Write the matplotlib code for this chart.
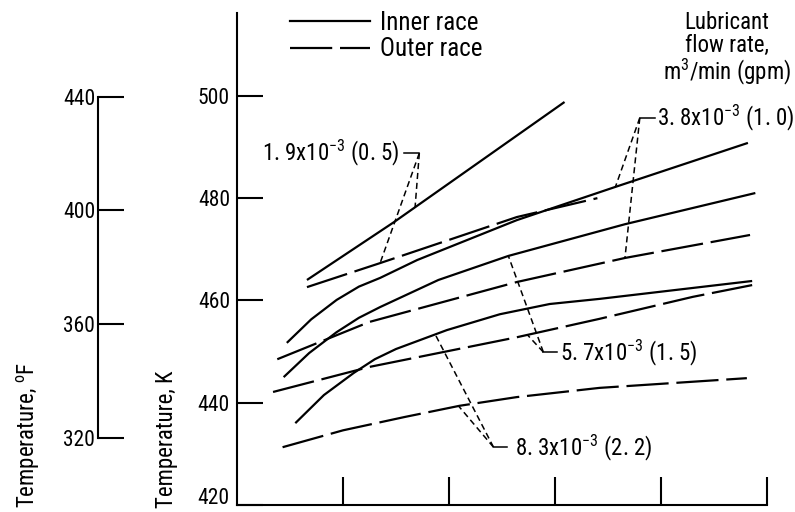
import numpy as np
import matplotlib.pyplot as plt
from matplotlib import font_manager as fm

# pick a narrow sans face if one is installed (the original lettering is condensed)
def pick_font():
    order = ['Liberation Sans Narrow', 'Roboto Condensed', 'Noto Sans Condensed',
             'Open Sans Condensed', 'DejaVu Sans Condensed']
    found = {}
    for f in fm.fontManager.ttflist:
        if f.style != 'normal' or f.weight not in (400, 'normal', 'regular'):
            continue
        nm = f.name
        if f.stretch == 'condensed' and 'Condensed' not in nm and 'Narrow' not in nm:
            nm = nm + ' Condensed'
        found.setdefault(nm, f.fname)
    for nm in order:
        if nm in found:
            return fm.FontProperties(fname=found[nm])
    return fm.FontProperties(family='Liberation Sans')

base_font = pick_font()

def fp(size):
    p = base_font.copy()
    p.set_size(size)
    return p

# race temperatures (K), x in tick units (unlabelled axis)
x_in_05 = [0.66, 1.48, 3.09]
T_in_05 = [464.0, 475.3, 498.8]
x_out_05 = [0.66, 1.35, 2.64, 3.40]
T_out_05 = [462.6, 467.3, 476.3, 480.0]

x_in_10 = [0.47, 0.70, 0.94, 1.15, 1.35, 1.70, 2.64, 3.57, 4.82]
T_in_10 = [451.7, 456.3, 460.1, 462.7, 464.4, 467.9, 475.7, 482.2, 490.8]
x_out_10 = [0.38, 1.25, 2.64, 3.66, 4.84]
T_out_10 = [448.5, 455.8, 463.6, 468.3, 472.8]

x_in_15 = [0.44, 0.68, 0.94, 1.15, 1.35, 1.90, 2.56, 3.66, 4.89]
T_in_15 = [445.0, 449.7, 453.8, 456.6, 458.7, 464.0, 468.7, 474.9, 481.0]
x_out_15 = [0.34, 1.25, 2.64, 3.42, 4.30, 4.86]
T_out_15 = [442.1, 447.0, 452.8, 456.4, 460.7, 463.0]

x_in_22 = [0.55, 0.82, 1.10, 1.30, 1.50, 1.98, 2.48, 2.95, 3.42, 4.86]
T_in_22 = [436.0, 441.5, 445.8, 448.5, 450.5, 454.2, 457.3, 459.3, 460.3, 463.8]
x_out_22 = [0.43, 1.00, 1.58, 2.10, 2.64, 3.42, 4.81]
T_out_22 = [431.3, 434.6, 437.2, 439.4, 441.1, 442.9, 444.8]

inner = [(x_in_05, T_in_05), (x_in_10, T_in_10), (x_in_15, T_in_15), (x_in_22, T_in_22)]
outer = [(x_out_05, T_out_05), (x_out_10, T_out_10), (x_out_15, T_out_15), (x_out_22, T_out_22)]

flow_labels = ["1. 9x10$^{\\mathregular{-3}}$ (0. 5)",
               "3. 8x10$^{\\mathregular{-3}}$ (1. 0)",
               "5. 7x10$^{\\mathregular{-3}}$ (1. 5)",
               "8. 3x10$^{\\mathregular{-3}}$ (2. 2)"]
# leader lines: corner point, x where it touches inner / outer curve
corner_x = [1.72, 3.80, 2.89, 2.42]
corner_T = [488.8, 495.7, 449.9, 431.3]
touch_in = [1.68, 3.57, 2.56, 1.87]
touch_out = [1.35, 3.66, 2.74, 2.09]
stub_x = [1.575, 3.94, 3.02, 2.55]
text_x = [1.53, 3.96, 3.05, 2.62]
text_T = [487.3, 494.3, 448.2, 429.7]

K_ticks = [420, 440, 460, 480, 500]
F_ticks = [320, 360, 400, 440]

outer_dash = (0, (19, 3.5))
lw = 1.6

fig = plt.figure(figsize=(7.95, 5.12), dpi=100)
bottom = 7 / 512
height = 492 / 512
ax = fig.add_axes([237 / 795, bottom, 530 / 795, height])
ax.set_xlim(0, 5)
ax.set_ylim(420, 516.2)

for (xi, ti), (xo, to) in zip(inner, outer):
    ax.plot(xi, ti, color='k', lw=lw, solid_capstyle='butt', solid_joinstyle='round')
    ax.plot(xo, to, color='k', lw=lw, linestyle=outer_dash)

for i in range(4):
    xi, ti = inner[i]
    xo, to = outer[i]
    ti_hit = np.interp(touch_in[i], xi, ti)
    to_hit = np.interp(touch_out[i], xo, to)
    kw = dict(color='k', lw=1.1, linestyle=(0, (4, 2.5)))
    ax.plot([corner_x[i], touch_in[i]], [corner_T[i], ti_hit], **kw)
    ax.plot([corner_x[i], touch_out[i]], [corner_T[i], to_hit], **kw)
    ax.plot([corner_x[i], stub_x[i]], [corner_T[i], corner_T[i]], color='k', lw=1.1)
    ha = 'right' if i == 0 else 'left'
    ax.text(text_x[i], text_T[i], flow_labels[i], ha=ha, va='baseline',
            fontproperties=fp(16.5))

for s in ['top', 'right']:
    ax.spines[s].set_visible(False)
for s in ['left', 'bottom']:
    ax.spines[s].set_linewidth(1.5)
ax.set_yticks(K_ticks)
ax.set_yticklabels([str(t) if t != 420 else '' for t in K_ticks])
ax.set_xticks([1, 2, 3, 4, 5])
ax.set_xticklabels([])
ax.tick_params(axis='y', direction='in', length=19, width=1.5, pad=5)
ax.tick_params(axis='x', direction='in', length=20, width=1.5)
for lab in ax.get_yticklabels():
    lab.set_fontproperties(fp(15.5))
# bottom label sits a little above its tick in the original (page edge)
ax.annotate('420', xy=(0, 420), xycoords=('axes fraction', 'data'),
            xytext=(-5.5, 4.5), textcoords='offset points', ha='right', va='center',
            fontproperties=fp(15.5))

# Fahrenheit scale
ax2 = fig.add_axes([98 / 795, bottom, 0.001, height])
ax2.set_ylim(420 * 1.8 - 459.67, 516.2 * 1.8 - 459.67)
for s in ['top', 'right', 'bottom']:
    ax2.spines[s].set_visible(False)
ax2.spines['left'].set_linewidth(1.5)
ax2.spines['left'].set_bounds(320, 440)
ax2.set_xticks([])
ax2.set_yticks(F_ticks)
ax2.tick_params(axis='y', direction='in', length=19, width=1.5, pad=2)
for lab in ax2.get_yticklabels():
    lab.set_fontproperties(fp(15.5))
ax2.patch.set_visible(False)

fig.text(167 / 795, 4 / 512, "Temperature, K", rotation=90,
         ha='center', va='bottom', fontproperties=fp(16.5))
fig.text(28 / 795, 4 / 512, "Temperature, $^{\\mathregular{o}}$F", rotation=90,
         ha='center', va='bottom', fontproperties=fp(16.5))

h_in, = ax.plot([], [], color='k', lw=lw)
h_out, = ax.plot([], [], color='k', lw=lw, linestyle=outer_dash)
ax.legend([h_in, h_out], ["Inner race", "Outer race"], loc='upper left',
          bbox_to_anchor=(290 / 795, 1 - 11 / 512), bbox_transform=fig.transFigure,
          frameon=False, prop=fp(18), handlelength=3.2, handletextpad=0.4,
          borderpad=0, borderaxespad=0, labelspacing=0.1)

fig.text(727 / 795, 1 - 11 / 512, "Lubricant\nflow rate,\nm$^{\\mathregular{3}}$/min (gpm)",
         ha='center', va='top', fontproperties=fp(16.5), linespacing=1.0)

fig.savefig('out.png', dpi=100)
